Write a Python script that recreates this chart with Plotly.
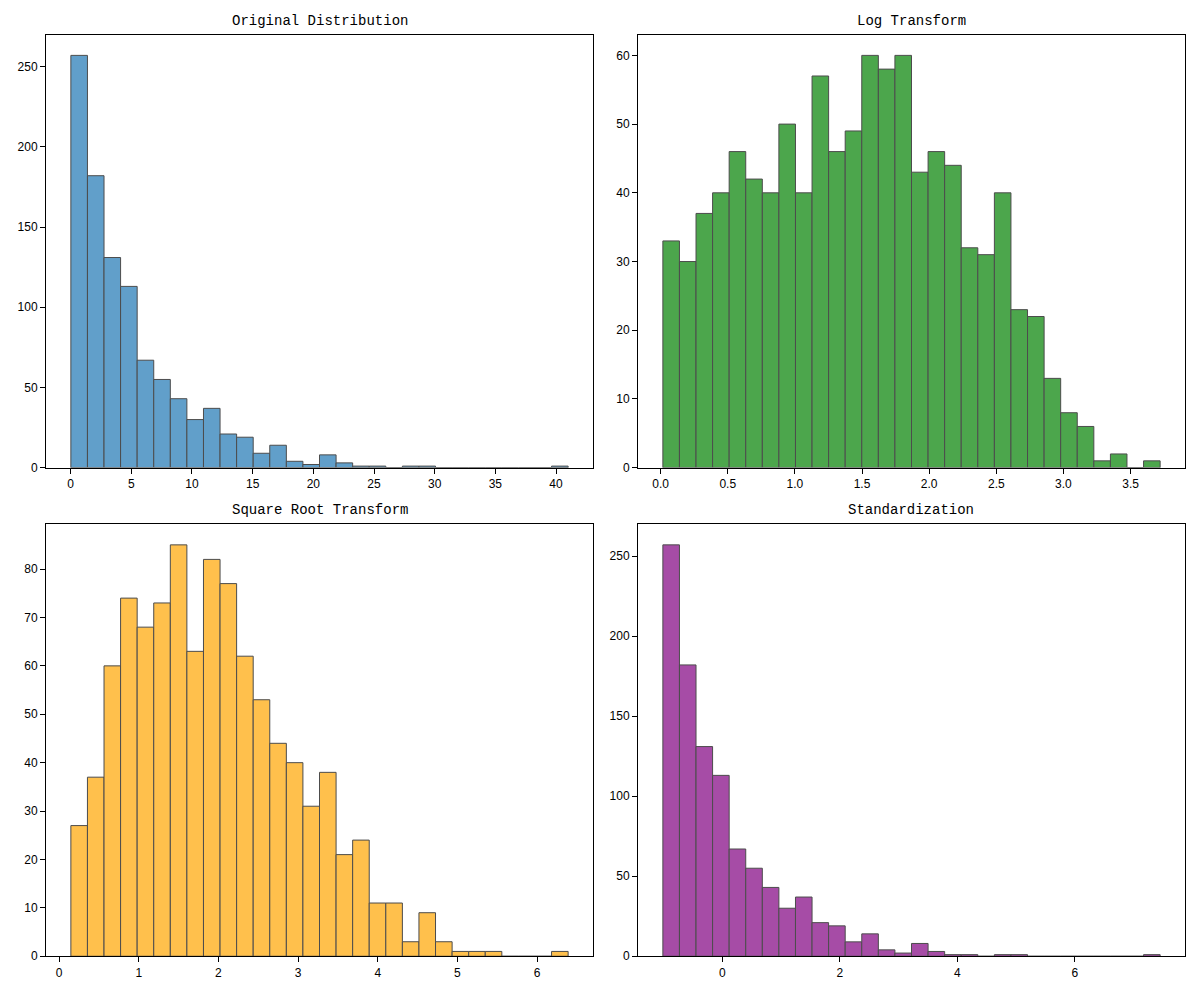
import numpy as np
import plotly.graph_objects as go

# ---- data (30-bin histograms, counts) ----
titles = ["Original Distribution", "Log Transform", "Square Root Transform", "Standardization"]

orig_range = [0.017, 41.0]
orig_counts = [257, 182, 131, 113, 67, 55, 43, 30, 37, 21, 19, 9, 14, 4, 2,
               8, 3, 1, 1, 0, 1, 1, 0, 0, 0, 0, 0, 0, 0, 1]

log_range = [0.017, 3.72]
log_counts = [33, 30, 37, 40, 46, 42, 40, 50, 40, 57, 46, 49, 60, 58, 60,
              43, 46, 44, 32, 31, 40, 23, 22, 13, 8, 6, 1, 2, 0, 1]

sqrt_range = [0.147, 6.39]
sqrt_counts = [27, 37, 60, 74, 68, 73, 85, 63, 82, 77, 62, 53, 44, 40, 31,
               38, 21, 24, 11, 11, 3, 9, 3, 1, 1, 1, 0, 0, 0, 1]

std_range = [-1.012, 7.45]
std_counts = [257, 182, 131, 113, 67, 55, 43, 30, 37, 21, 19, 9, 14, 4, 2,
              8, 3, 1, 1, 0, 1, 1, 0, 0, 0, 0, 0, 0, 0, 1]

colors = ["#1f77b4", "#008000", "#FFA500", "#800080"]

x_ticks = [list(range(0, 41, 5)), [0, 0.5, 1, 1.5, 2, 2.5, 3, 3.5], list(range(0, 7)), [0, 2, 4, 6]]
x_ticklabels = [None, ["0.0", "0.5", "1.0", "1.5", "2.0", "2.5", "3.0", "3.5"], None, None]
y_ticks = [list(range(0, 251, 50)), list(range(0, 61, 10)), list(range(0, 81, 10)), list(range(0, 251, 50))]

panels = [(orig_range, orig_counts), (log_range, log_counts), (sqrt_range, sqrt_counts), (std_range, std_counts)]

# layout geometry (paper fractions)
x_domains = [[46 / 1200, 593 / 1200], [638 / 1200, 1185 / 1200]]
y_domains = [[1 - 471 / 1000, 1 - 35 / 1000], [1 - 963 / 1000, 1 - 528 / 1000]]

fig = go.Figure()
layout = dict(width=1200, height=1000, margin=dict(l=0, r=0, t=0, b=0),
              paper_bgcolor="white", plot_bgcolor="white", showlegend=False,
              font=dict(family="Liberation Sans, Arial, sans-serif", size=12, color="black"))
annotations = []

for i, ((rng, counts), color) in enumerate(zip(panels, colors)):
    n = len(counts)
    edges = np.linspace(rng[0], rng[1], n + 1)
    centers = (edges[:-1] + edges[1:]) / 2
    bw = edges[1] - edges[0]
    ax = "" if i == 0 else str(i + 1)
    fig.add_trace(go.Bar(
        x=centers, y=counts, width=bw,
        marker=dict(color=color, line=dict(color="black", width=1)),
        opacity=0.7, xaxis="x" + ax, yaxis="y" + ax, hoverinfo="x+y"))

    span = rng[1] - rng[0]
    xr = [rng[0] - 0.05 * span, rng[1] + 0.05 * span]
    yr = [0, max(counts) * 1.05]
    r, c = divmod(i, 2)
    axis_common = dict(showgrid=False, zeroline=False, showline=True, linecolor="black",
                       linewidth=1, mirror=True, ticks="outside", ticklen=5, tickwidth=1,
                       tickcolor="black", tickfont=dict(size=12, color="black"))
    xa = dict(axis_common, domain=x_domains[c], range=xr, anchor="y" + ax,
              tickmode="array", tickvals=x_ticks[i])
    if x_ticklabels[i] is not None:
        xa["ticktext"] = x_ticklabels[i]
    ya = dict(axis_common, domain=y_domains[r], range=yr, anchor="x" + ax,
              tickmode="array", tickvals=y_ticks[i])
    layout["xaxis" + ax] = xa
    layout["yaxis" + ax] = ya
    annotations.append(dict(
        text=titles[i], xref="paper", yref="paper",
        x=(x_domains[c][0] + x_domains[c][1]) / 2, y=y_domains[r][1],
        xanchor="center", yanchor="bottom", yshift=4, showarrow=False,
        font=dict(family="Liberation Mono, DejaVu Sans Mono, monospace", size=14, color="black")))

layout["annotations"] = annotations
fig.update_layout(**layout)
fig.write_html("out.html")
